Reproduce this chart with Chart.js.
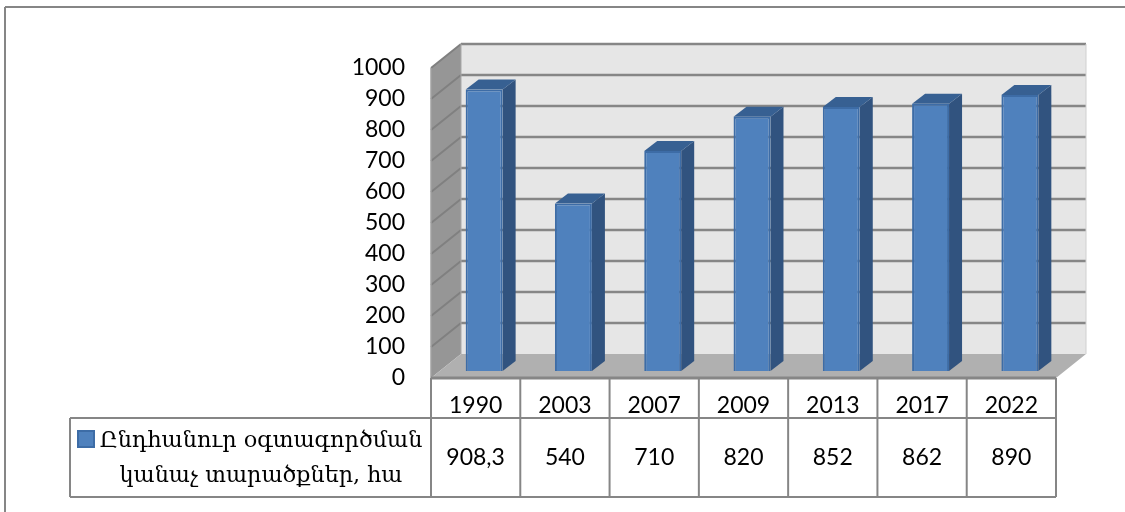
<!DOCTYPE html>
<html>
<head>
<meta charset="utf-8">
<title>Chart</title>
<script src="https://cdn.jsdelivr.net/npm/chart.js@4/dist/chart.umd.min.js"></script>
<style>
  html, body { margin: 0; padding: 0; background: #fff; }
  #wrap { position: relative; width: 1125px; height: 512px; }
</style>
</head>
<body>
<div id="wrap"><canvas id="chart" width="1125" height="512"></canvas></div>
<script>
// Data
const years = ['1990', '2003', '2007', '2009', '2013', '2017', '2022'];
const areas = [908.3, 540, 710, 820, 852, 862, 890];
const seriesLines = ['Ընդհանուր օգտագործման', 'կանաչ տարածքներ, հա'];

const NUM_FONT = '23px Lato';
const TEXT_FONT = '22.3px "DejaVu Serif"';
const LINE = '#868686';

// Fake 3D depth of the walls and of the bars
const WALL_DX = 30, WALL_DY = -24;
const BAR_SHIFT_X = 8.5, BAR_SHIFT_Y = -7;
const BAR_DX = 13, BAR_DY = -10;

function poly(ctx, points, fill) {
    ctx.beginPath();
    points.forEach((p, i) => i ? ctx.lineTo(p[0], p[1]) : ctx.moveTo(p[0], p[1]));
    ctx.closePath();
    ctx.fillStyle = fill;
    ctx.fill();
}

function seg(ctx, x1, y1, x2, y2, color, width) {
    ctx.beginPath();
    ctx.moveTo(x1, y1);
    ctx.lineTo(x2, y2);
    ctx.strokeStyle = color;
    ctx.lineWidth = width;
    ctx.stroke();
}

// Walls, floor and gridlines behind the bars
function drawWalls(chart) {
    const ctx = chart.ctx;
    const { left, right, top, bottom } = chart.chartArea;
    const yScale = chart.scales.y;

    poly(ctx, [[left + WALL_DX, top + WALL_DY], [right + WALL_DX, top + WALL_DY],
               [right + WALL_DX, bottom + WALL_DY], [left + WALL_DX, bottom + WALL_DY]], '#e6e6e6');
    poly(ctx, [[left, top], [left + WALL_DX, top + WALL_DY],
               [left + WALL_DX, bottom + WALL_DY], [left, bottom]], '#969696');
    poly(ctx, [[left, bottom], [left + WALL_DX, bottom + WALL_DY],
               [right + WALL_DX, bottom + WALL_DY], [right, bottom]], '#b0b0b0');

    yScale.ticks.forEach(tick => {
        const y = yScale.getPixelForValue(tick.value);
        if (tick.value > 0) {
            seg(ctx, left, y, left + WALL_DX, y + WALL_DY, '#808080', 2);
            seg(ctx, left + WALL_DX, y + WALL_DY, right + WALL_DX, y + WALL_DY, LINE, 2.5);
        }
    });
    seg(ctx, right + WALL_DX, top + WALL_DY, right + WALL_DX, bottom + WALL_DY, '#d0d0d0', 1);
    seg(ctx, left + WALL_DX, top + WALL_DY, left + WALL_DX, bottom + WALL_DY, '#a8a8a8', 1);
    seg(ctx, left, top, left, bottom, '#a0a0a0', 1.5);
}

// Top and side faces of each bar
function drawBarDepth(chart) {
    const ctx = chart.ctx;
    chart.getDatasetMeta(0).data.forEach(bar => {
        const half = bar.width / 2;
        const x1 = bar.x - half + BAR_SHIFT_X, x2 = bar.x + half + BAR_SHIFT_X;
        const y1 = bar.y + BAR_SHIFT_Y, y2 = bar.base + BAR_SHIFT_Y;
        poly(ctx, [[x2, y1], [x2 + BAR_DX, y1 + BAR_DY], [x2 + BAR_DX, y2 + BAR_DY], [x2, y2]], '#31537f');
        poly(ctx, [[x1, y1], [x1 + BAR_DX, y1 + BAR_DY], [x2 + BAR_DX, y1 + BAR_DY], [x2, y1]], '#376092');
    });
}

// Data table below the axis, plus the outer frame of the picture
function drawTable(chart) {
    const ctx = chart.ctx;
    const { left, right, bottom } = chart.chartArea;
    const colWidth = (right - left) / years.length;
    const rowMid = 418, rowEnd = 497, legendLeft = 70;

    seg(ctx, 5, 7, 1125, 7, LINE, 2);
    seg(ctx, 5, 7, 5, 512, LINE, 2);

    seg(ctx, left, bottom, right, bottom, LINE, 3);
    seg(ctx, legendLeft, rowMid, right, rowMid, LINE, 2);
    seg(ctx, legendLeft, rowEnd, right, rowEnd, LINE, 2);
    seg(ctx, legendLeft, rowMid, legendLeft, rowEnd, LINE, 2);
    for (let i = 0; i <= years.length; i++) {
        seg(ctx, left + colWidth * i, bottom, left + colWidth * i, rowEnd, LINE, 2);
    }

    ctx.textBaseline = 'middle';
    ctx.textAlign = 'center';
    ctx.fillStyle = '#000';
    ctx.font = NUM_FONT;
    areas.forEach((v, i) => {
        ctx.fillText(String(v).replace('.', ','), left + colWidth * (i + 0.5), (rowMid + rowEnd) / 2);
    });

    // Legend key and series name
    ctx.fillStyle = '#4f81bd';
    ctx.strokeStyle = '#3d6ca6';
    ctx.lineWidth = 2;
    ctx.fillRect(78, 431, 16, 16);
    ctx.strokeRect(78, 431, 16, 16);
    ctx.fillStyle = '#000';
    ctx.font = TEXT_FONT;
    ctx.fillText(seriesLines[0], 261, 441);
    ctx.fillText(seriesLines[1], 261, 476);
}

const depthPlugin = {
    id: 'depth',
    beforeDatasetsDraw(chart) {
        drawWalls(chart);
        drawBarDepth(chart);
        chart.ctx.save();
        chart.ctx.translate(BAR_SHIFT_X, BAR_SHIFT_Y);
    },
    afterDatasetsDraw(chart) {
        chart.ctx.restore();
        drawTable(chart);
    }
};

new Chart(document.getElementById('chart').getContext('2d'), {
    type: 'bar',
    plugins: [depthPlugin],
    data: {
        labels: years,
        datasets: [{
            label: seriesLines.join(' '),
            data: areas,
            backgroundColor: '#4f81bd',
            borderColor: '#3d6ca6',
            borderWidth: 2,
            barPercentage: 0.6,
            categoryPercentage: 0.69,
            clip: false
        }]
    },
    options: {
        responsive: false,
        animation: false,
        layout: { padding: { left: 0, top: 68, right: 69, bottom: 94 } },
        plugins: {
            legend: { display: false },
            title: { display: false },
            tooltip: { enabled: false }
        },
        scales: {
            x: {
                grid: { display: false },
                border: { display: false },
                afterFit(scale) { scale.height = 40; },
                ticks: { font: { family: 'Lato', size: 23 }, color: '#000', padding: 6, maxRotation: 0 }
            },
            y: {
                min: 0,
                max: 1000,
                grid: { display: false },
                border: { display: false },
                afterFit(scale) { scale.width = 431; },
                ticks: {
                    stepSize: 100,
                    font: { family: 'Lato', size: 23 },
                    color: '#000',
                    padding: 18,
                    callback: value => String(value)
                }
            }
        }
    }
});
</script>
</body>
</html>
